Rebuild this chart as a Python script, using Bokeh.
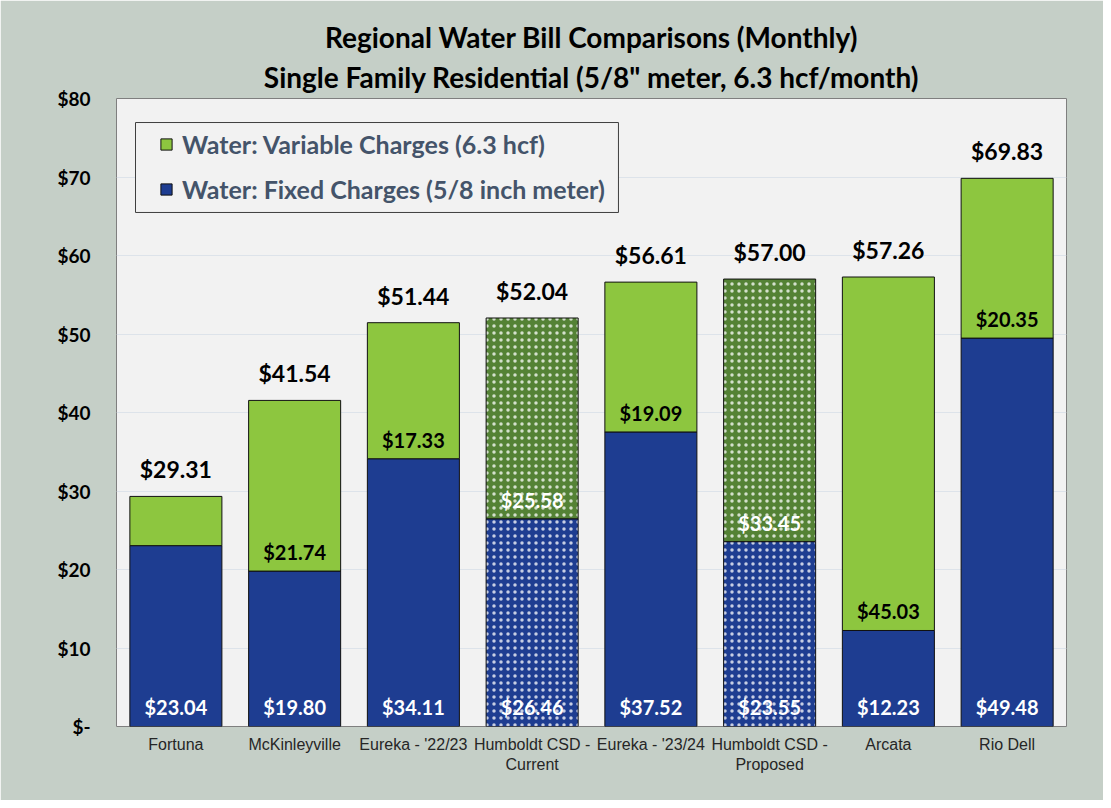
from bokeh.plotting import figure
from bokeh.models import (ColumnDataSource, LabelSet, Legend, LegendItem, Title,
                          BoxAnnotation, FixedTicker, FactorRange, Range1d)
from bokeh.core.properties import value
from bokeh.embed import file_html
from bokeh.resources import INLINE

# ---------------- data ----------------
categories = ["Fortuna", "McKinleyville", "Eureka - '22/23", "Humboldt CSD -\nCurrent",
              "Eureka - '23/24", "Humboldt CSD -\nProposed", "Arcata", "Rio Dell"]
fixed_charges = [23.04, 19.80, 34.11, 26.46, 37.52, 23.55, 12.23, 49.48]
variable_charges = [6.27, 21.74, 17.33, 25.58, 19.09, 33.45, 45.03, 20.35]
totals = [29.31, 41.54, 51.44, 52.04, 56.61, 57.00, 57.26, 69.83]
is_humboldt = [False, False, False, True, False, True, False, False]
show_variable_label = [False, True, True, True, True, True, True, True]
y_ticks = [0, 10, 20, 30, 40, 50, 60, 70, 80]
y_tick_labels = ["$-", "$10", "$20", "$30", "$40", "$50", "$60", "$70", "$80"]

title_1 = "Regional Water Bill Comparisons (Monthly)"
title_2 = 'Single Family Residential (5/8" meter, 6.3 hcf/month)'
legend_var = "Water: Variable Charges (6.3 hcf)"
legend_fix = "Water: Fixed Charges (5/8 inch meter)"

# ---------------- styles ----------------
NAVY = "#1e3d91"
GREEN = "#8dc63f"
DARK_GREEN = "#548235"
BG = "#c5cfc7"
PLOT_BG = "#f2f2f2"
FONT = "Lato"

src = ColumnDataSource(dict(
    cat=categories,
    fixed=fixed_charges,
    var=variable_charges,
    total=totals,
    fixed_lbl=["${:.2f}".format(v) for v in fixed_charges],
    var_lbl=["${:.2f}".format(v) if s else "" for v, s in zip(variable_charges, show_variable_label)],
    total_lbl=["${:.2f}".format(v) for v in totals],
    var_color=[DARK_GREEN if h else GREEN for h in is_humboldt],
    var_lbl_color=["white" if h else "black" for h in is_humboldt],
    hatch=["." if h else " " for h in is_humboldt],
))

p = figure(x_range=FactorRange(*categories, range_padding=0), y_range=Range1d(0, 80),
           width=1103, height=800, output_backend="svg", toolbar_location=None,
           title=None, min_border_left=116, min_border_right=37,
           min_border_top=98, min_border_bottom=74)

p.background_fill_color = PLOT_BG
p.border_fill_color = BG
p.outline_line_color = "#7f7f7f"
p.outline_line_width = 1

# bars
hatch_kw = dict(hatch_pattern="hatch", hatch_color="white", hatch_scale=7,
                hatch_weight=0.3, hatch_alpha=0.75)
r_fix = p.vbar(x="cat", bottom=0, top="fixed", width=0.775, source=src,
               fill_color=NAVY, line_color="#111111", line_width=1, **hatch_kw)
r_var = p.vbar(x="cat", bottom="fixed", top="total", width=0.775, source=src,
               fill_color="var_color", line_color="#111111", line_width=1, **hatch_kw)

# labels
p.add_layout(LabelSet(x="cat", y="total", text="total_lbl", source=src,
                      text_align="center", text_baseline="alphabetic", y_offset=18,
                      text_font=value(FONT), text_font_style="bold",
                      text_font_size="23px", text_color="black"))
p.add_layout(LabelSet(x="cat", y="fixed", text="var_lbl", source=src,
                      text_align="center", text_baseline="alphabetic", y_offset=11,
                      text_font=value(FONT), text_font_style="bold",
                      text_font_size="20px", text_color="var_lbl_color"))
p.add_layout(LabelSet(x="cat", y=0, text="fixed_lbl", source=src,
                      text_align="center", text_baseline="alphabetic", y_offset=12,
                      text_font=value(FONT), text_font_style="bold",
                      text_font_size="20px", text_color="white"))

# axes
p.yaxis.ticker = FixedTicker(ticks=y_ticks)
p.yaxis.major_label_overrides = {t: l for t, l in zip(y_ticks, y_tick_labels)}
p.yaxis.major_label_text_font = FONT
p.yaxis.major_label_text_font_style = "bold"
p.yaxis.major_label_text_font_size = "19px"
p.yaxis.major_label_text_color = "black"
p.yaxis.major_label_standoff = 26
for ax in (p.xaxis[0], p.yaxis[0]):
    ax.axis_line_color = None
    ax.major_tick_line_color = None
    ax.minor_tick_line_color = None
    ax.major_tick_out = 0
    ax.major_tick_in = 0
p.xaxis.major_label_text_font = "Liberation Sans"
p.xaxis.major_label_text_font_size = "16px"
p.xaxis.major_label_text_color = "#262626"
p.xaxis.major_label_standoff = 9
p.xaxis.major_label_orientation = "horizontal"

p.xgrid.grid_line_color = None
p.ygrid.grid_line_color = "#dde3ea"
p.ygrid.grid_line_width = 1

# titles
p.add_layout(Title(text=title_2, align="center", text_font=FONT, text_font_style="bold",
                   text_font_size="28px", text_color="black", standoff=9), "above")
p.add_layout(Title(text=title_1, align="center", text_font=FONT, text_font_style="bold",
                   text_font_size="28px", text_color="black", standoff=0), "above")

# legend frame + legend
p.add_layout(BoxAnnotation(left=0.16, right=4.227, bottom=65.48, top=76.94,
                           fill_color=PLOT_BG, fill_alpha=1, line_color="#3f3f3f",
                           line_width=1, line_alpha=1))
legend = Legend(items=[LegendItem(label=legend_var, renderers=[r_var], index=0),
                       LegendItem(label=legend_fix, renderers=[r_fix], index=0)],
                location=(33, 512), padding=10, margin=0, spacing=15,
                glyph_width=14, glyph_height=14, label_height=30, label_standoff=9,
                label_text_font=FONT, label_text_font_style="bold",
                label_text_font_size="25px", label_text_color="#44546a",
                background_fill_alpha=0, border_line_alpha=0)
p.add_layout(legend)

open("out.html", "w").write(file_html(p, INLINE))
